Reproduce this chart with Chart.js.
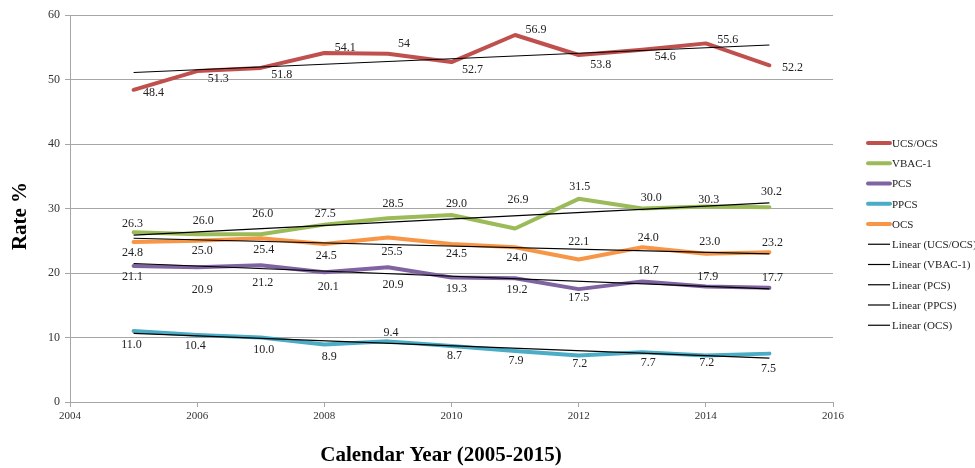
<!DOCTYPE html>
<html>
<head>
<meta charset="utf-8">
<script src="https://cdn.jsdelivr.net/npm/chart.js@4.4.0/dist/chart.umd.min.js"></script>
<style>
  html, body { margin: 0; padding: 0; background: #fff; }
</style>
</head>
<body>
<canvas id="rate_chart" width="975" height="468"></canvas>
<script>
// data
var years = [2005, 2006, 2007, 2008, 2009, 2010, 2011, 2012, 2013, 2014, 2015];
var ucsOcs = [48.4, 51.3, 51.8, 54.1, 54, 52.7, 56.9, 53.8, 54.6, 55.6, 52.2];
var vbac1 = [26.3, 26.0, 26.0, 27.5, 28.5, 29.0, 26.9, 31.5, 30.0, 30.3, 30.2];
var pcs = [21.1, 20.9, 21.2, 20.1, 20.9, 19.3, 19.2, 17.5, 18.7, 17.9, 17.7];
var ppcs = [11.0, 10.4, 10.0, 8.9, 9.4, 8.7, 7.9, 7.2, 7.7, 7.2, 7.5];
var ocs = [24.8, 25.0, 25.4, 24.5, 25.5, 24.5, 24.0, 22.1, 24.0, 23.0, 23.2];
var seriesNames = ['UCS/OCS', 'VBAC-1', 'PCS', 'PPCS', 'OCS'];
var xTicks = [2004, 2006, 2008, 2010, 2012, 2014, 2016];
var yTicks = [0, 10, 20, 30, 40, 50, 60];

// styling / label placement (pixels relative to each point)
var colors = ['#C0504D', '#9BBB59', '#8064A2', '#4BACC6', '#F79646'];
var labelDx = [
  [20, 21, 21, 21, 16, 21, 21, 22, 23, 22, 23],
  [-1, 6, 2, 1, 5, 5, 3, 1, 9, 3, 2],
  [-1, 5, 2, 4, 5, 5, 2, 0, 6, 2, 3],
  [-2, -2, 3, 5, 3, 3, 1, 1, 6, 1, -1],
  [-1, 5, 3, 2, 4, 5, 2, 0, 6, 4, 3]
];
var labelDy = [
  [3, 8, 7, -5, -10, 8, -5, 10, 7, -4, 3],
  [-9, -13, -20, -11, -14, -11, -29, -12, -11, -7, -15],
  [11, 23, 18, 14, 18, 11, 12, 9, -11, -10, -10],
  [14, 11, 12, 12, -9, 10, 10, 8, 11, 7, 15],
  [11, 10, 12, 12, 14, 10, 11, -18, -9, -12, -10]
];
var allSeries = [ucsOcs, vbac1, pcs, ppcs, ocs];
var serifFont = '"Liberation Serif", "DejaVu Serif", serif';

function toPoints(values) {
  return values.map(function(v, i) { return {x: years[i], y: v}; });
}

// least squares trend line over the years
function trend(values) {
  var n = values.length, sx = 0, sy = 0, sxy = 0, sxx = 0;
  for (var i = 0; i < n; i++) {
    sx += years[i]; sy += values[i];
    sxy += years[i] * values[i]; sxx += years[i] * years[i];
  }
  var slope = (n * sxy - sx * sy) / (n * sxx - sx * sx);
  var icpt = (sy - slope * sx) / n;
  return [
    {x: years[0], y: icpt + slope * years[0]},
    {x: years[n - 1], y: icpt + slope * years[n - 1]}
  ];
}

function fmt(s, v) {
  return s === 0 ? String(v) : v.toFixed(1);
}

var datasets = [];
allSeries.forEach(function(values, s) {
  datasets.push({
    label: seriesNames[s],
    data: toPoints(values),
    borderColor: colors[s],
    backgroundColor: colors[s],
    borderWidth: 4,
    pointRadius: 0,
    tension: 0,
    borderJoinStyle: 'round',
    borderCapStyle: 'round',
    order: 2
  });
});
allSeries.forEach(function(values, s) {
  datasets.push({
    label: 'Linear (' + seriesNames[s] + ')',
    data: trend(values),
    borderColor: '#000',
    borderWidth: 1.2,
    pointRadius: 0,
    order: 1
  });
});

var extras = {
  id: 'extras',
  afterDatasetsDraw: function(chart) {
    var ctx = chart.ctx, xs = chart.scales.x, ys = chart.scales.y;
    ctx.save();
    ctx.font = '12px ' + serifFont;
    ctx.fillStyle = '#222';
    ctx.textAlign = 'center';
    ctx.textBaseline = 'middle';
    allSeries.forEach(function(values, s) {
      values.forEach(function(v, i) {
        var px = xs.getPixelForValue(years[i]) + labelDx[s][i];
        var py = ys.getPixelForValue(v) + labelDy[s][i];
        ctx.fillText(fmt(s, v), px, py);
      });
    });
    ctx.restore();
  },
  afterDraw: function(chart) {
    var ctx = chart.ctx;
    ctx.save();
    // legend
    ctx.font = '11px ' + serifFont;
    ctx.textAlign = 'left';
    ctx.textBaseline = 'middle';
    chart.data.datasets.forEach(function(ds, i) {
      var y = 143 + i * 20.25;
      ctx.beginPath();
      ctx.moveTo(868, y);
      ctx.lineTo(890, y);
      ctx.strokeStyle = ds.borderColor;
      ctx.lineWidth = i < 5 ? 4 : 1.2;
      ctx.lineCap = i < 5 ? 'round' : 'butt';
      ctx.stroke();
      ctx.fillStyle = '#222';
      ctx.fillText(ds.label, 892, y + 1);
    });
    // axis titles
    ctx.font = 'bold 21px ' + serifFont;
    ctx.fillStyle = '#000';
    ctx.textAlign = 'center';
    ctx.fillText('Calendar Year (2005-2015)', 441, 456);
    ctx.translate(21, 216);
    ctx.rotate(-Math.PI / 2);
    ctx.fillText('Rate %', 0, 0);
    ctx.restore();
  }
};

var ctx = document.getElementById('rate_chart');

var rateChart = new Chart(ctx, {
  type: 'line',
  data: { datasets: datasets },
  options: {
    responsive: false,
    animation: false,
    devicePixelRatio: 1,
    layout: { padding: { left: 0, top: 15, right: 142, bottom: 0 } },
    plugins: {
      legend: { display: false },
      tooltip: { enabled: false }
    },
    scales: {
      x: {
        type: 'linear',
        min: 2004,
        max: 2016,
        afterBuildTicks: function(scale) {
          scale.ticks = xTicks.map(function(v) { return {value: v}; });
        },
        afterFit: function(scale) { scale.height = 66; },
        grid: {
          drawOnChartArea: false,
          drawTicks: true,
          tickLength: 5,
          color: '#A6A6A6'
        },
        border: { color: '#A6A6A6', width: 1 },
        ticks: {
          font: { family: serifFont, size: 11 },
          color: '#333',
          padding: 3,
          maxRotation: 0,
          callback: function(v) { return String(v); }
        }
      },
      y: {
        min: 0,
        max: 60,
        afterBuildTicks: function(scale) {
          scale.ticks = yTicks.map(function(v) { return {value: v}; });
        },
        afterFit: function(scale) { scale.width = 70; },
        grid: {
          color: '#A6A6A6',
          tickLength: 5,
          lineWidth: 1
        },
        border: { color: '#A6A6A6', width: 1 },
        ticks: {
          font: { family: serifFont, size: 12 },
          color: '#333',
          padding: 5
        }
      }
    }
  },
  plugins: [extras]
});
</script>
</body>
</html>
